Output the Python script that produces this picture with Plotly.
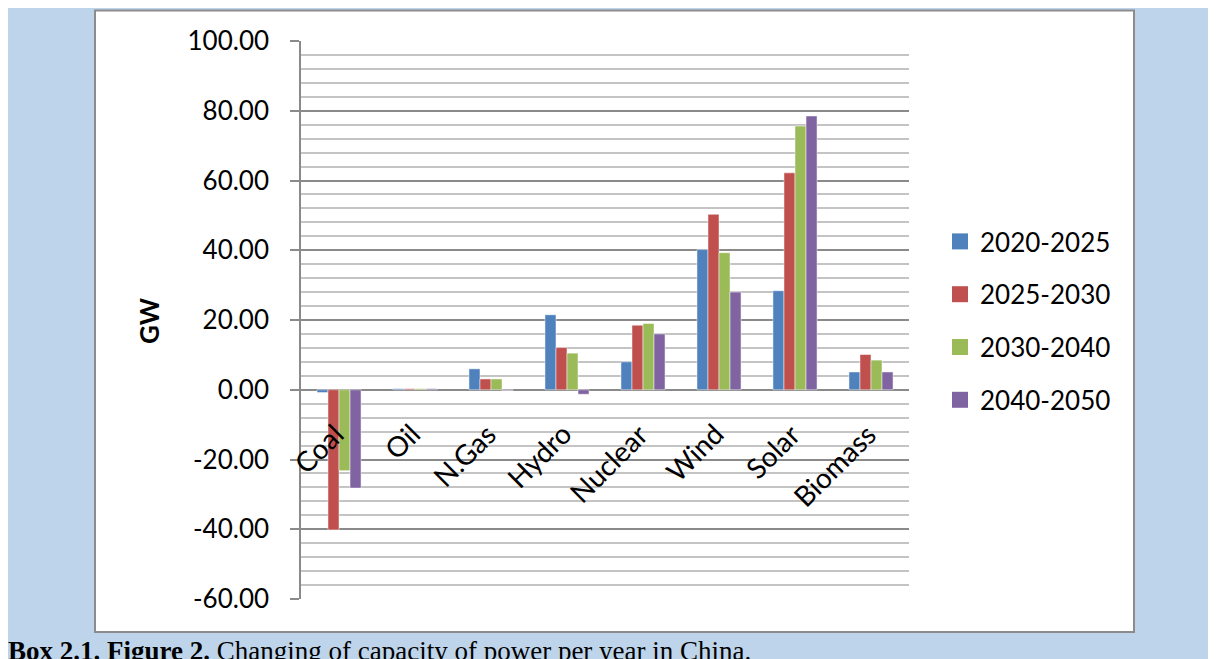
import plotly.graph_objects as go

categories = ["Coal", "Oil", "N.Gas", "Hydro", "Nuclear", "Wind", "Solar", "Biomass"]
series_names = ["2020-2025", "2025-2030", "2030-2040", "2040-2050"]
s2020_2025 = [-0.8, 0.3, 6.0, 21.5, 8.0, 40.2, 28.4, 5.1]
s2025_2030 = [-40.2, 0.3, 3.1, 12.1, 18.5, 50.3, 62.2, 10.1]
s2030_2040 = [-23.2, 0.3, 3.1, 10.5, 19.0, 39.3, 75.6, 8.5]
s2040_2050 = [-28.2, 0.3, -0.2, -1.3, 16.0, 28.0, 78.5, 5.1]
series_values = [s2020_2025, s2025_2030, s2030_2040, s2040_2050]
tick_vals = [-60, -40, -20, 0, 20, 40, 60, 80, 100]
tick_labels = ["-60.00", "-40.00", "-20.00", "0.00", "20.00", "40.00", "60.00", "80.00", "100.00"]
colors = ["#4F81BD", "#C0504D", "#9BBB59", "#8064A2"]

OFF = 8  # default page body margin
W, H = 1216 - OFF, 659 - OFF
L, R, T, B = 301 - OFF, 1216 - 909, 41 - OFF, 659 - 599
pw, ph = W - L - R, H - T - B


def px_x(x):
    return (x - OFF - L) / pw


def px_y(y):
    return (H - B - (y - OFF)) / ph


font_main = "Lato, Carlito, Calibri, 'DejaVu Sans', sans-serif"

fig = go.Figure()
for name, vals, col in zip(series_names, series_values, colors):
    fig.add_trace(go.Bar(
        x=categories, y=vals, name=name, legendgroup=name, showlegend=False,
        marker=dict(color=col, line=dict(color="rgba(255,255,255,0.6)", width=0.8)),
    ))
for name, col in zip(series_names, colors):
    fig.add_trace(go.Scatter(
        x=[categories[0]], y=[None], mode="markers", name=name, legendgroup=name,
        marker=dict(symbol="square", size=16, color=col),
    ))

annotations = []
for c in categories:
    annotations.append(dict(
        x=c, y=0, xref="x", yref="y", text=c, showarrow=False,
        textangle=-45, xanchor="right", yanchor="top", xshift=14, yshift=-24,
        font=dict(family=font_main, size=28, color="black"),
    ))

annotations.append(dict(
    x=px_x(6), y=px_y(634), xref="paper", yref="paper",
    text="<b>Box 2.1. Figure 2.</b> Changing of capacity of power per year in China.",
    showarrow=False, xanchor="left", yanchor="top",
    font=dict(family="'Liberation Serif', 'Times New Roman', serif", size=27, color="black"),
))

annotations.append(dict(
    x=px_x(149), y=px_y(321), xref="paper", yref="paper", text="<b>GW</b>",
    showarrow=False, textangle=-90, xanchor="center", yanchor="middle",
    font=dict(family=font_main, size=26, color="black"),
))

shapes = [dict(
    type="rect", xref="paper", yref="paper", layer="below",
    x0=px_x(95), x1=px_x(1134), y0=px_y(632), y1=px_y(10.5),
    fillcolor="white", line=dict(color="#8C8C8C", width=2),
)]

fig.update_layout(
    width=W, height=H,
    margin=dict(l=L, r=R, t=T, b=B, autoexpand=False),
    paper_bgcolor="#BED4EA",
    plot_bgcolor="white",
    barmode="group",
    bargap=0.42,
    bargroupgap=0,
    showlegend=True,
    legend=dict(
        x=px_x(940), y=px_y(321), xanchor="left", yanchor="middle",
        font=dict(family=font_main, size=26, color="black"),
        bgcolor="rgba(0,0,0,0)", tracegroupgap=16, itemwidth=30,
    ),
    annotations=annotations,
    shapes=shapes,
    xaxis=dict(
        range=[-0.5, len(categories) - 0.5],
        showticklabels=False, showgrid=False, zeroline=False, showline=False, ticks="",
    ),
    yaxis=dict(
        range=[-60, 100], tickvals=tick_vals, ticktext=tick_labels,
        showgrid=True, gridcolor="#8A8A8A", gridwidth=1.5,
        minor=dict(dtick=4, tick0=0, showgrid=True, gridcolor="#C4C4C4", gridwidth=1.5),
        zeroline=True, zerolinecolor="#8A8A8A", zerolinewidth=1.5,
        showline=True, linecolor="#8A8A8A", linewidth=1.5,
        ticks="outside", ticklen=9, tickcolor="#8A8A8A", tickwidth=1.5,
        ticklabelstandoff=16,
        tickfont=dict(family=font_main, size=26, color="black"),
    ),
)

fig.write_html("out.html")
